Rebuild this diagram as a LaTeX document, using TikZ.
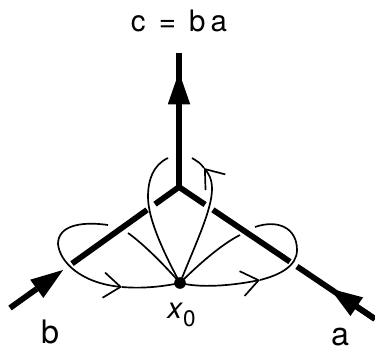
\documentclass[tikz,border=0pt]{standalone}
\usepackage{fontspec}
\setmainfont{TeX Gyre Heros}
\usepackage{tikz}
\usetikzlibrary{arrows.meta,calc}

\begin{document}
\begin{tikzpicture}[x=0.25cm,y=-0.25cm,
            arm/.style={line width=4.1pt},
            loop/.style={line width=1.2pt},
            inarrow/.style={-{Triangle[length=23pt,width=16pt,line width=0pt]}},
            flow/.style={-{Straight Barb[length=12pt,width=18pt]}},
            lbl/.style={font=\fontsize{23}{26}\selectfont,inner sep=0pt}]
            \useasboundingbox (0,0) rectangle (37.5,35);

            \coordinate (v) at (17.9,18.7);
            \coordinate (ctop) at (17.9,5.3);
            \coordinate (bend) at (1.0,30.8);
            \coordinate (aend) at (37.5,31.9);
            \node[circle,fill,inner sep=0pt,minimum size=8.3pt] (x0) at (18.0,28.3) {};

            % arms
            \draw[arm] ($(v)!0.142!(bend)$) -- (v) -- ($(v)!0.133!(aend)$);
            \draw[arm] (v) -- (ctop);
            \draw[arm,inarrow] (v) -- ($(v)!0.858!(ctop)$);
            \draw[arm] ($(v)!0.189!(bend)$) -- ($(v)!0.633!(bend)$);
            \draw[arm,inarrow] (bend) -- ($(v)!0.686!(bend)$);
            \draw[arm] ($(v)!0.173!(aend)$) -- ($(v)!0.566!(aend)$);
            \draw[arm] ($(v)!0.602!(aend)$) -- (aend);
            \draw[arm,inarrow] (aend) -- ($(v)!0.77!(aend)$);

            % left loop
            \draw[loop] (x0.center) .. controls (16.8,26.9) and (14.5,24.5) .. (12.8,23.3);
            \draw[loop,flow] (10.8,22.5) .. controls (8.0,22.1) and (5.8,22.6) .. (5.8,24.4)
                .. controls (6.0,26.3) and (8.2,28.3) .. (12.2,28.7);
            \draw[loop] (12.2,28.7) .. controls (14.5,28.9) and (16.5,28.6) .. (x0.center);

            % right loop
            \draw[loop,flow] (x0.center) .. controls (20.0,28.8) and (23.0,28.6) .. (26.0,28.0);
            \draw[loop] (26.0,28.0) .. controls (28.0,27.5) and (29.7,26.6) .. (29.7,25.0)
                .. controls (29.7,22.8) and (27.8,21.9) .. (25.5,22.7);
            \draw[loop] (x0.center) .. controls (19.5,26.8) and (22.0,24.5) .. (24.0,23.5);

            % middle loop
            \draw[loop,flow] (x0.center) .. controls (19.5,24.5) and (21.2,21.0) .. (21.2,18.9)
                .. controls (21.2,17.8) and (20.8,17.3) .. (20.4,16.8);
            \draw[loop] (20.4,16.8) .. controls (20.0,16.3) .. (19.2,15.8);
            \draw[loop] (16.8,15.8) .. controls (15.3,16.5) and (14.8,18.0) .. (14.8,19.7)
                .. controls (14.8,22.0) and (16.5,25.5) .. (x0.center);

            \node[font=\fontsize{21}{24}\selectfont,anchor=base] (lc) at (17.9,3.2) {c \,=\, b\,a};
            \node[lbl,anchor=base] (lb) at (5.0,34.4) {b};
            \node[lbl,anchor=base] (la) at (34.0,34.5) {a};
            \node[anchor=base west,inner sep=0pt,font=\fontsize{21}{24}\selectfont] (lx) at (16.7,31.8)
                {\textit{x}\raisebox{-0.3em}{\fontsize{16}{18}\selectfont 0}};
\end{tikzpicture}
\end{document}
